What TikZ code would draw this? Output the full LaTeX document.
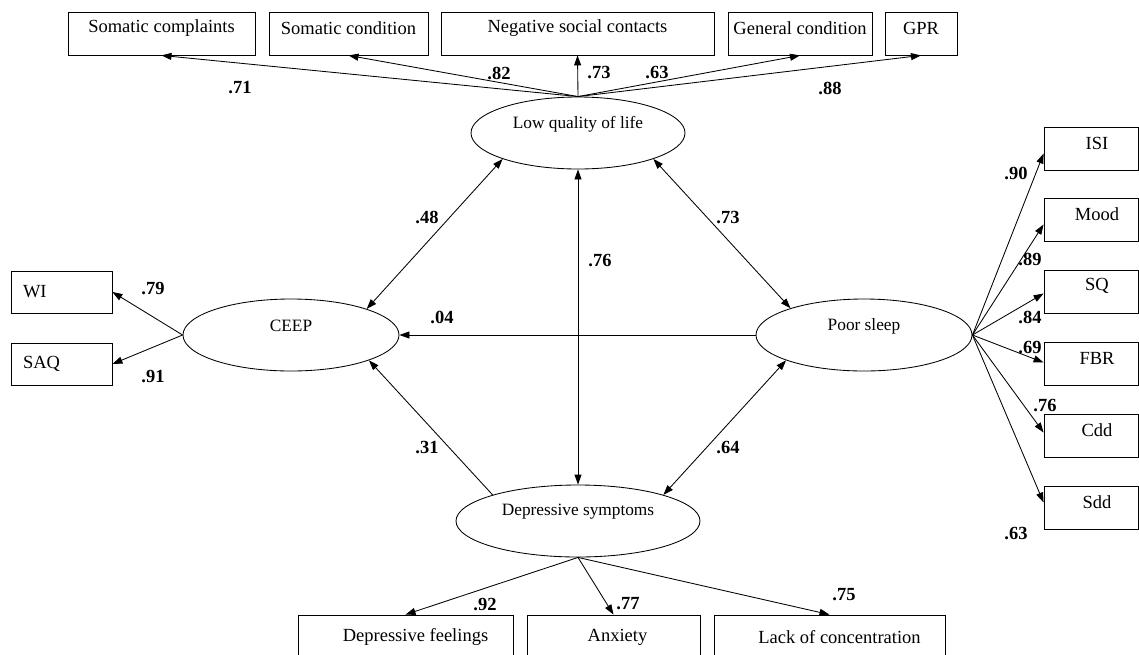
\documentclass[tikz,border=0pt]{standalone}
\usepackage{fontspec}
\setmainfont{Liberation Serif}
\usetikzlibrary{shapes.geometric,arrows.meta,calc}
\newcommand\upby[2]{\raisebox{#1}[\height][\depth]{#2}}
\begin{document}
\begin{tikzpicture}[x=1pt,y=-1pt,line width=0.85pt,
  >={Triangle[length=10pt,width=7pt]},
  box/.style={draw, rectangle, inner sep=0pt, font=\fontsize{18.5}{20}\selectfont},
  lat/.style={draw, ellipse, inner sep=0pt, minimum height=72pt, font=\fontsize{17.3}{19}\selectfont},
  lab/.style={inner sep=0pt, font=\fontsize{18.5}{20}\selectfont\bfseries},
  rbox/.style={box, minimum width=94pt, minimum height=43pt},
  tbox/.style={box, minimum height=43pt},
  bbox/.style={box, minimum height=44pt},
  lbox/.style={box, minimum width=101pt, minimum height=42pt, text width=77pt, inner xsep=12pt, align=left}
]
\clip (0,0) rectangle (1139,654);

% top indicator boxes
\node[tbox, minimum width=187pt] (scompl) at (161.5,33.5) {\upby{5pt}{Somatic complaints}};
\node[tbox, minimum width=159pt] (scond) at (348.5,33.5) {\upby{5pt}{Somatic condition}};
\node[tbox, minimum width=273pt] (neg) at (577.5,33.5) {\upby{5pt}{Negative social contacts}};
\node[tbox, minimum width=144pt] (gen) at (800,33.5) {\upby{5pt}{General condition}};
\node[tbox, minimum width=72pt] (gpr) at (921,33.5) {\upby{5pt}{GPR}};

% latent variables
\node[lat, minimum width=214pt] (lql) at (578,133) {\upby{9pt}{Low quality of life}};
\node[lat, minimum width=216pt] (ceep) at (291,335) {\upby{9pt}{CEEP}};
\node[lat, minimum width=216pt] (poor) at (864,335) {\upby{9pt}{Poor sleep}};
\node[lat, minimum width=244pt] (dep) at (578,521) {\upby{9pt}{Depressive symptoms}};

% left boxes
\node[lbox] (wi) at (61.5,292) {WI};
\node[lbox] (saq) at (61.5,364) {SAQ};

% right boxes
\node[rbox] (isi) at (1091,148.5) {\upby{5.5pt}{\hspace*{12pt}ISI}};
\node[rbox] (mood) at (1091,219.5) {\upby{5.5pt}{\hspace*{12pt}Mood}};
\node[rbox] (sq) at (1091,291.5) {\upby{5.5pt}{\hspace*{12pt}SQ}};
\node[rbox] (fbr) at (1091,363.5) {\upby{5.5pt}{\hspace*{12pt}FBR}};
\node[rbox] (cdd) at (1091,435.5) {\upby{5.5pt}{\hspace*{12pt}Cdd}};
\node[rbox] (sdd) at (1091,507.5) {\upby{5.5pt}{\hspace*{12pt}Sdd}};

% bottom boxes
\node[bbox, minimum width=215pt] (df) at (405.5,637) {\hspace*{20pt}Depressive feelings};
\node[bbox, minimum width=173pt] (anx) at (613.5,637) {\hspace*{8pt}Anxiety};
\node[bbox, minimum width=231pt] (lack) at (829.5,637) {\hspace*{20pt}Lack of concentration};

% connectors: low quality of life
\draw[->] (lql.north) -- (scompl.south);
\draw[->] (lql.north) -- (scond.south);
\draw[->] (lql.north) -- (neg.south);
\draw[->] (lql.north) -- (gen.south);
\draw[->] (lql.north) -- (gpr.south);

% structural paths
\draw[<->] (lql.199) -- (ceep.19);
\draw[<->] (lql.-19) -- (poor.160);
\draw[<->] (lql.south) -- (dep.north);
\draw[->] (poor.west) -- (ceep.east);
\draw[->] (dep.163) -- (ceep.-18);
\draw[<->] (dep.17) -- (poor.198);

% CEEP indicators
\draw[->] (ceep.west) -- (wi.east);
\draw[->] (ceep.west) -- (saq.east);

% poor sleep indicators
\draw[->] (poor.east) -- ($(isi.west)+(0,5)$);
\draw[->] (poor.east) -- ($(mood.west)+(0,5)$);
\draw[->] (poor.east) -- ($(sq.west)+(0,2)$);
\draw[->] (poor.east) -- ($(fbr.west)+(0,-1)$);
\draw[->] (poor.east) -- ($(cdd.west)+(0,-3)$);
\draw[->] (poor.east) -- ($(sdd.west)+(0,-5)$);

% depressive symptoms indicators
\draw[->] (dep.south) -- (df.north);
\draw[->] (dep.south) -- (anx.north);
\draw[->] (dep.south) -- (lack.north);

% labels
\node[lab] (l1) at (240,88) {.71};
\node[lab] (l2) at (499,73) {.82};
\node[lab] (l3) at (599,73) {.73};
\node[lab] (l4) at (657,73) {.63};
\node[lab] (l5) at (830,88) {.88};
\node[lab] (l6) at (1016,173) {.90};
\node[lab] (l7) at (1030,259) {.89};
\node[lab] (l8) at (1030,317) {.84};
\node[lab] (l9) at (1030,347) {.69};
\node[lab] (l10) at (1045,405) {.76};
\node[lab] (l11) at (1016,533) {.63};
\node[lab] (l12) at (153,288) {.79};
\node[lab] (l13) at (153,376) {.91};
\node[lab] (l14) at (427,217) {.48};
\node[lab] (l15) at (728,217) {.73};
\node[lab] (l16) at (600,260) {.76};
\node[lab] (l17) at (442,317) {.04};
\node[lab] (l18) at (427,447) {.31};
\node[lab] (l19) at (728,447) {.64};
\node[lab] (l20) at (485,604) {.92};
\node[lab] (l21) at (628,604) {.77};
\node[lab] (l22) at (844,595) {.75};
\end{tikzpicture}
\end{document}
